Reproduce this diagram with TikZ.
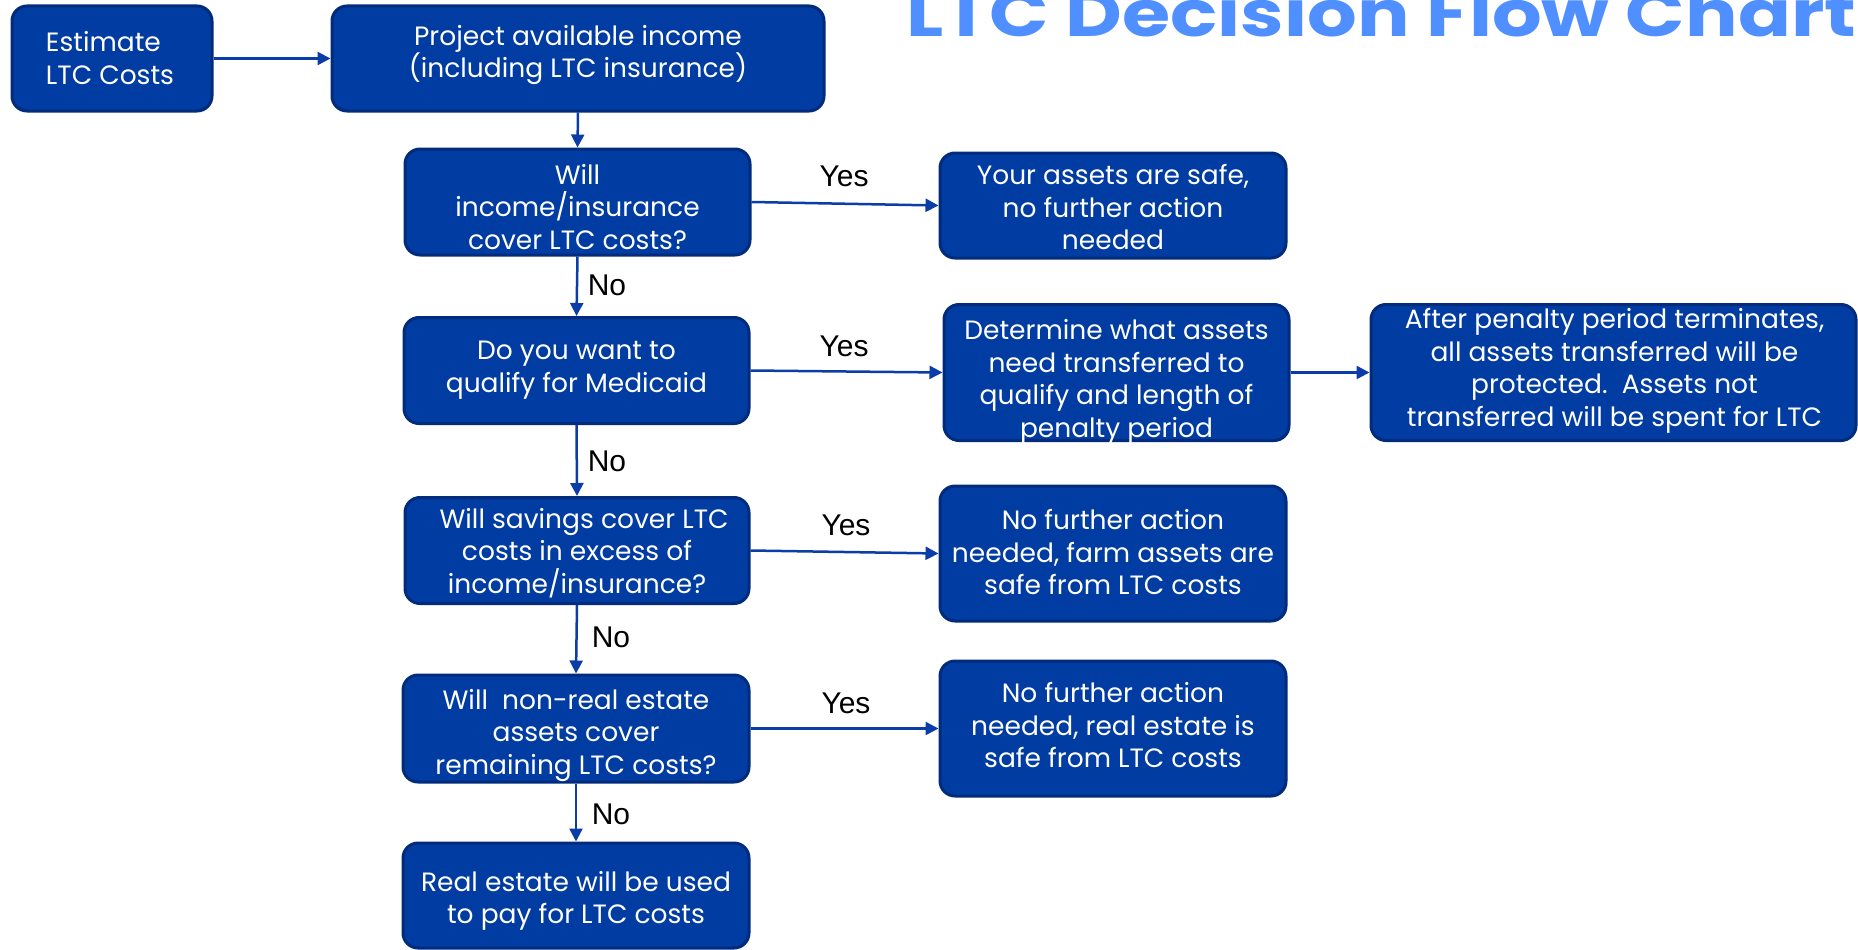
\documentclass[tikz,border=0pt]{standalone}
\usepackage{fontspec}
\setmainfont{Poppins}
\newfontfamily\arialf{Liberation Sans}
\usetikzlibrary{arrows.meta}
\definecolor{boxfill}{HTML}{013CA3}
\definecolor{boxline}{HTML}{022B7C}
\definecolor{arrowc}{HTML}{0A3DA8}
\definecolor{titlec}{HTML}{4F8FFF}
\tikzset{
  box/.style={draw=boxline, line width=3pt, fill=boxfill, rounded corners=15pt, inner sep=0pt},
  txt/.style={text=white, align=center, font=\fontsize{26.5}{32.5}\selectfont, inner sep=0pt},
  lbl/.style={font=\arialf\fontsize{30}{32}\selectfont, text=black, inner sep=0pt},
  arr/.style={draw=arrowc, line width=2.5pt, -{Triangle[length=13pt,width=13pt]}},
}
\begin{document}
\begin{tikzpicture}[x=1pt,y=-1pt]
\useasboundingbox (0,0) rectangle (1858,950);
% title
\node[anchor=base west, text=titlec, font=\bfseries\fontsize{64}{64}\selectfont, inner sep=0pt, xscale=1.22] (title) at (906,37) {LTC Decision Flow Chart};
% boxes
\node[box, minimum width=200pt, minimum height=105pt] (est) at (112,58.5) {};
\node[box, minimum width=492pt, minimum height=105pt] (proj) at (578,58.5) {};
\node[box, minimum width=345pt, minimum height=106pt] (q1) at (577.5,202) {};
\node[box, minimum width=346pt, minimum height=105pt] (y1) at (1113,205.5) {};
\node[box, minimum width=345pt, minimum height=106pt] (q2) at (576.5,370.5) {};
\node[box, minimum width=345pt, minimum height=136pt] (det) at (1116.5,372.5) {};
\node[box, minimum width=485pt, minimum height=136pt] (after) at (1613.5,372.5) {};
\node[box, minimum width=344pt, minimum height=106pt] (q3) at (577,550.5) {};
\node[box, minimum width=346pt, minimum height=135pt] (y3) at (1113,553.5) {};
\node[box, minimum width=346pt, minimum height=107pt] (q4) at (576,728.5) {};
\node[box, minimum width=346pt, minimum height=135pt] (y4) at (1113,728.5) {};
\node[box, minimum width=346pt, minimum height=105pt] (re) at (576,895.5) {};
% texts
\node[txt, align=left] (estT) at (110,58) {Estimate\\LTC Costs};
\node[txt] (projT) at (578,55) {Project available income\\(including LTC insurance)};
\node[txt] (q1T) at (577.5,207) {Will\\income/insurance\\cover LTC costs?};
\node[txt] (y1T) at (1113,207) {Your assets are safe,\\no further action\\needed};
\node[txt] (q2T) at (576.5,370) {Do you want to\\qualify for Medicaid};
\node[txt] (detT) at (1116.5,382) {Determine what assets\\need transferred to\\qualify and length of\\penalty period};
\node[txt] (afterT) at (1614.5,371) {After penalty period terminates,\\all assets transferred will be\\protected.\ \ Assets not\\transferred will be spent for LTC};
\node[txt] (q3T) at (577,553) {\ \ Will savings cover LTC\\costs in excess of\\income/insurance?};
\node[txt] (y3T) at (1113,552) {No further action\\needed, farm assets are\\safe from LTC costs};
\node[txt] (q4T) at (576,735) {Will\ \ non-real estate\\assets cover\\remaining LTC costs?};
\node[txt] (y4T) at (1113,725) {No further action\\needed, real estate is\\safe from LTC costs};
\node[txt] (reT) at (576,901) {Real estate will be used\\to pay for LTC costs};
% arrows
\draw[arr] (est.east) -- (proj.west);
\draw[arr] (proj.south) -- (q1.north);
\draw[arr] (q1.east) -- (y1.west);
\draw[arr] (q1.south) -- (q2.north);
\draw[arr] (q2.east) -- (det.west);
\draw[arr] (det.east) -- (after.west);
\draw[arr] (q2.south) -- (q3.north);
\draw[arr] (q3.east) -- (y3.west);
\draw[arr] (q3.south) -- (q4.north);
\draw[arr] (q4.east) -- (y4.west);
\draw[arr] (q4.south) -- (re.north);
% labels
\node[lbl] (l1) at (844,176) {Yes};
\node[lbl] (l2) at (607,285) {No};
\node[lbl] (l3) at (844,346) {Yes};
\node[lbl] (l4) at (607,461) {No};
\node[lbl] (l5) at (846,525) {Yes};
\node[lbl] (l6) at (611,637) {No};
\node[lbl] (l7) at (846,703) {Yes};
\node[lbl] (l8) at (611,814) {No};
\end{tikzpicture}
\end{document}
